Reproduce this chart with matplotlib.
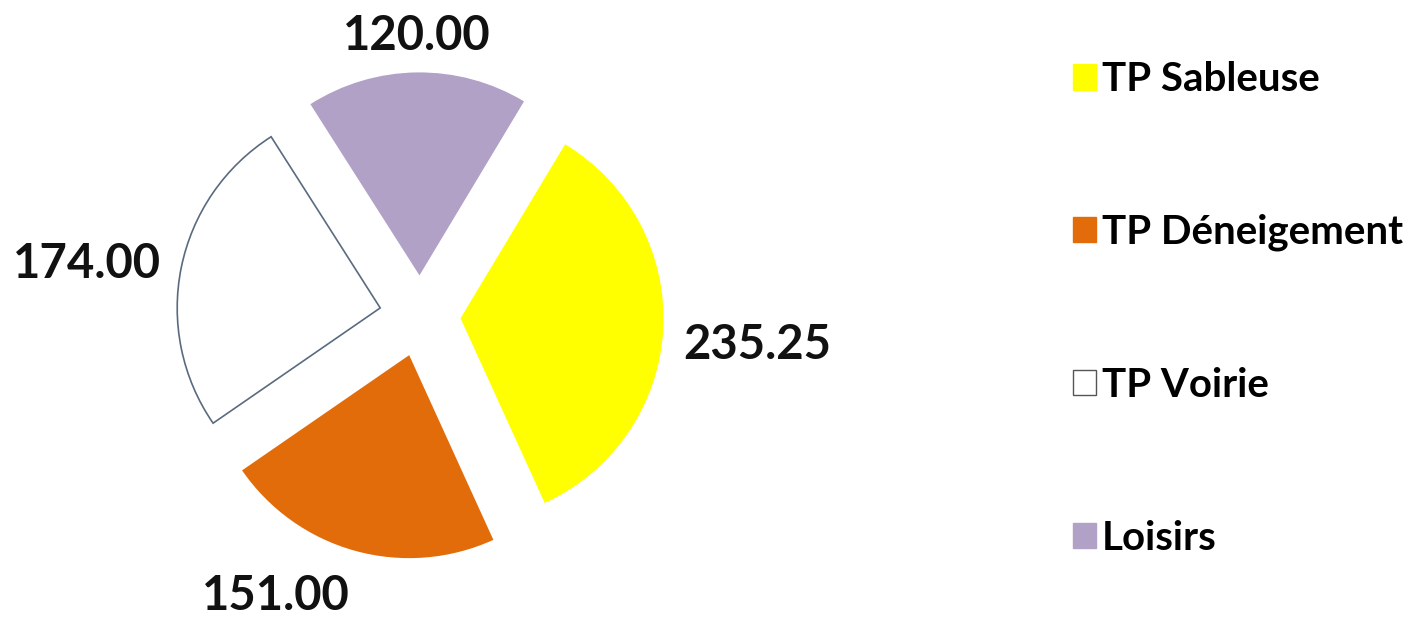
import numpy as np
import matplotlib

matplotlib.use("Agg")
import matplotlib.pyplot as plt

plt.rcParams["font.family"] = ["Lato", "DejaVu Sans"]

categories = ["TP Sableuse", "TP Déneigement", "TP Voirie", "Loisirs"]
values = [235.25, 151.00, 174.00, 120.00]
value_labels = [f"{v:.2f}" for v in values]

colors = ["#FFFF00", "#E36C0A", "#FFFFFF", "#B2A1C7"]
edges = ["none", "none", "#5A6B80", "none"]

fig = plt.figure(figsize=(14.2, 6.18), dpi=100, facecolor="white")
ax = fig.add_axes([0, 0, 1, 1])

R_PX = 203.0
wedges, texts = ax.pie(
    values,
    labels=value_labels,
    colors=colors,
    explode=[0.2] * len(values),
    startangle=59,
    counterclock=False,
    labeldistance=1.1,
    textprops=dict(fontsize=34, fontweight="bold", color="#111111"),
)
for w, ec in zip(wedges, edges):
    if ec != "none":
        w.set_edgecolor(ec)
        w.set_linewidth(1.2)
    else:
        w.set_edgecolor("none")

# align value labels like the original (outside end)
for w, t in zip(wedges, texts):
    mid = np.deg2rad((w.theta1 + w.theta2) / 2)
    c, s = np.cos(mid), np.sin(mid)
    if abs(c) < 0.2:
        t.set_ha("center")
    else:
        t.set_ha("left" if c > 0 else "right")
    if s > 0.5:
        t.set_va("bottom")
        x, y = t.get_position()
        t.set_position((x, y - 0.03))
    elif s < -0.5:
        t.set_va("top")
        x, y = t.get_position()
        t.set_position((x, y - 0.02))
    else:
        t.set_va("center")
        if c > 0:
            x, y = t.get_position()
            t.set_position((x, y - 0.07))

ax.set_xlim(-420 / R_PX, 1000 / R_PX)
ax.set_ylim(-302 / R_PX, 316 / R_PX)
ax.set_aspect("equal", adjustable="box")
ax.axis("off")

handles = []
for col, ec in zip(colors, edges):
    handles.append(plt.Rectangle((0, 0), 1, 1, facecolor=col,
                                 edgecolor=("#555555" if ec != "none" else col),
                                 linewidth=1.0))
fig.legend(
    handles,
    categories,
    loc="upper left",
    bbox_to_anchor=(0.744, 0.927),
    frameon=False,
    prop=dict(size=29, weight="bold"),
    handlelength=0.58,
    handleheight=0.58,
    handletextpad=0.15,
    labelspacing=2.87,
    borderaxespad=0,
)

fig.savefig("out.png", dpi=100, facecolor="white")
